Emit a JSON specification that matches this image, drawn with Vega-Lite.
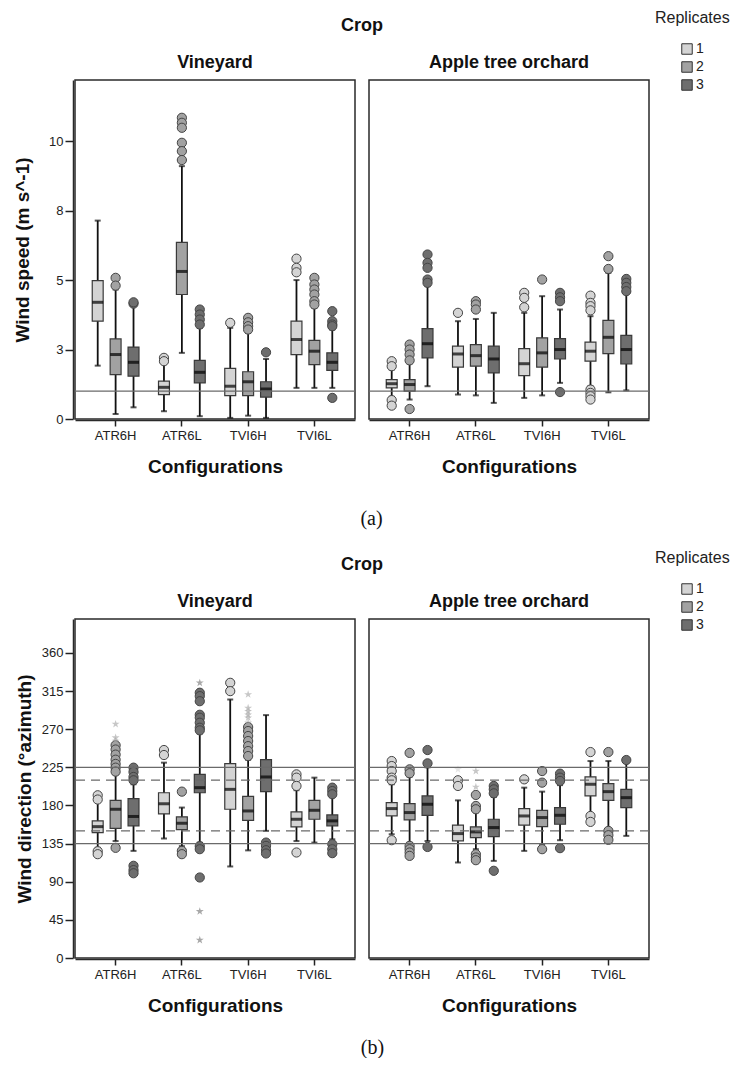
{
"$schema":"https://vega.github.io/schema/vega-lite/v6.json",
"padding":{"top":10,"left":13,"right":0,"bottom":0},
"config":{
 "font":"Liberation Sans",
 "view":{"stroke":"#2a2a2a","strokeWidth":1.5},
 "axis":{"labelFont":"Liberation Sans","labelFontSize":13,"labelColor":"#222","titleFont":"Liberation Sans","titleFontSize":19,"titleFontWeight":"bold","titleColor":"#111","tickColor":"#222","tickWidth":1.5,"domainColor":"#2a2a2a","domainWidth":1.5,"grid":false},
 "axisX":{"labelAngle":0,"tickSize":6,"labelPadding":3,"titlePadding":15},
 "axisY":{"tickSize":8,"labelPadding":2,"titlePadding":10,"titleBaseline":"middle"},
 "header":{"titleFont":"Liberation Sans","titleFontSize":18,"titleFontWeight":"bold","titleColor":"#111","labelFont":"Liberation Sans","labelFontSize":18,"labelFontWeight":"bold","labelColor":"#111","labelPadding":7,"titlePadding":9},
 "legend":{"symbolType":"square","symbolStrokeColor":"#333","symbolStrokeWidth":1,"symbolSize":110,"titleFont":"Liberation Sans","titleFontSize":16,"titleFontWeight":"normal","titleColor":"#222","labelFont":"Liberation Sans","labelFontSize":14,"labelColor":"#222","symbolOffset":25,"rowPadding":2,"labelOffset":2,"titlePadding":16}
},
"concat":[
{
 "title":{"text":"(a)","orient":"bottom","font":"Liberation Serif","fontSize":20,"fontWeight":"normal","color":"#111","offset":33,"anchor":"middle"},
 "data":{"values":[
 {"k":"r","c":"Vineyard","v":1,"d":"s"},
 {"k":"r","c":"Apple tree orchard","v":1,"d":"s"},
 {"k":"b","c":"Vineyard","g":"ATR6H","r":"1","lo":1.92,"q1":3.52,"md":4.2,"q3":4.98,"hi":7.14},
 {"k":"b","c":"Vineyard","g":"ATR6H","r":"2","lo":0.18,"q1":1.6,"md":2.32,"q3":2.88,"hi":4.66},
 {"k":"o","c":"Vineyard","g":"ATR6H","r":"2","v":5.08},
 {"k":"o","c":"Vineyard","g":"ATR6H","r":"2","v":4.8},
 {"k":"b","c":"Vineyard","g":"ATR6H","r":"3","lo":0.42,"q1":1.54,"md":2.04,"q3":2.59,"hi":4.1},
 {"k":"o","c":"Vineyard","g":"ATR6H","r":"3","v":4.15},
 {"k":"o","c":"Vineyard","g":"ATR6H","r":"3","v":4.2},
 {"k":"b","c":"Vineyard","g":"ATR6L","r":"1","lo":0.28,"q1":0.88,"md":1.14,"q3":1.36,"hi":2.0},
 {"k":"o","c":"Vineyard","g":"ATR6L","r":"1","v":2.2},
 {"k":"o","c":"Vineyard","g":"ATR6L","r":"1","v":2.08},
 {"k":"b","c":"Vineyard","g":"ATR6L","r":"2","lo":2.38,"q1":4.48,"md":5.31,"q3":6.36,"hi":9.1},
 {"k":"o","c":"Vineyard","g":"ATR6L","r":"2","v":10.84},
 {"k":"o","c":"Vineyard","g":"ATR6L","r":"2","v":10.66},
 {"k":"o","c":"Vineyard","g":"ATR6L","r":"2","v":10.48},
 {"k":"o","c":"Vineyard","g":"ATR6L","r":"2","v":9.94},
 {"k":"o","c":"Vineyard","g":"ATR6L","r":"2","v":9.64},
 {"k":"o","c":"Vineyard","g":"ATR6L","r":"2","v":9.32},
 {"k":"b","c":"Vineyard","g":"ATR6L","r":"3","lo":0.1,"q1":1.3,"md":1.68,"q3":2.11,"hi":3.28},
 {"k":"o","c":"Vineyard","g":"ATR6L","r":"3","v":3.94},
 {"k":"o","c":"Vineyard","g":"ATR6L","r":"3","v":3.76},
 {"k":"o","c":"Vineyard","g":"ATR6L","r":"3","v":3.58},
 {"k":"o","c":"Vineyard","g":"ATR6L","r":"3","v":3.4},
 {"k":"b","c":"Vineyard","g":"TVI6H","r":"1","lo":0.04,"q1":0.84,"md":1.18,"q3":1.82,"hi":3.28},
 {"k":"o","c":"Vineyard","g":"TVI6H","r":"1","v":3.46},
 {"k":"b","c":"Vineyard","g":"TVI6H","r":"2","lo":0.12,"q1":0.84,"md":1.34,"q3":1.7,"hi":3.1},
 {"k":"o","c":"Vineyard","g":"TVI6H","r":"2","v":3.64},
 {"k":"o","c":"Vineyard","g":"TVI6H","r":"2","v":3.48},
 {"k":"o","c":"Vineyard","g":"TVI6H","r":"2","v":3.34},
 {"k":"o","c":"Vineyard","g":"TVI6H","r":"2","v":3.22},
 {"k":"b","c":"Vineyard","g":"TVI6H","r":"3","lo":0.04,"q1":0.79,"md":1.08,"q3":1.34,"hi":2.16},
 {"k":"o","c":"Vineyard","g":"TVI6H","r":"3","v":2.4},
 {"k":"b","c":"Vineyard","g":"TVI6L","r":"1","lo":1.12,"q1":2.32,"md":2.86,"q3":3.52,"hi":5.0},
 {"k":"o","c":"Vineyard","g":"TVI6L","r":"1","v":5.77},
 {"k":"o","c":"Vineyard","g":"TVI6L","r":"1","v":5.44},
 {"k":"o","c":"Vineyard","g":"TVI6L","r":"1","v":5.28},
 {"k":"b","c":"Vineyard","g":"TVI6L","r":"2","lo":1.12,"q1":1.96,"md":2.44,"q3":2.83,"hi":4.0},
 {"k":"o","c":"Vineyard","g":"TVI6L","r":"2","v":5.08},
 {"k":"o","c":"Vineyard","g":"TVI6L","r":"2","v":4.84},
 {"k":"o","c":"Vineyard","g":"TVI6L","r":"2","v":4.66},
 {"k":"o","c":"Vineyard","g":"TVI6L","r":"2","v":4.48},
 {"k":"o","c":"Vineyard","g":"TVI6L","r":"2","v":4.24},
 {"k":"o","c":"Vineyard","g":"TVI6L","r":"2","v":4.12},
 {"k":"b","c":"Vineyard","g":"TVI6L","r":"3","lo":1.12,"q1":1.75,"md":2.04,"q3":2.38,"hi":3.22},
 {"k":"o","c":"Vineyard","g":"TVI6L","r":"3","v":3.88},
 {"k":"o","c":"Vineyard","g":"TVI6L","r":"3","v":3.52},
 {"k":"o","c":"Vineyard","g":"TVI6L","r":"3","v":3.4},
 {"k":"o","c":"Vineyard","g":"TVI6L","r":"3","v":3.34},
 {"k":"o","c":"Vineyard","g":"TVI6L","r":"3","v":0.76},
 {"k":"b","c":"Apple tree orchard","g":"ATR6H","r":"1","lo":0.8,"q1":1.12,"md":1.27,"q3":1.42,"hi":1.78},
 {"k":"o","c":"Apple tree orchard","g":"ATR6H","r":"1","v":2.08},
 {"k":"o","c":"Apple tree orchard","g":"ATR6H","r":"1","v":1.9},
 {"k":"o","c":"Apple tree orchard","g":"ATR6H","r":"1","v":0.68},
 {"k":"o","c":"Apple tree orchard","g":"ATR6H","r":"1","v":0.48},
 {"k":"b","c":"Apple tree orchard","g":"ATR6H","r":"2","lo":0.7,"q1":1.0,"md":1.24,"q3":1.42,"hi":2.0},
 {"k":"o","c":"Apple tree orchard","g":"ATR6H","r":"2","v":2.68},
 {"k":"o","c":"Apple tree orchard","g":"ATR6H","r":"2","v":2.5},
 {"k":"o","c":"Apple tree orchard","g":"ATR6H","r":"2","v":2.32},
 {"k":"o","c":"Apple tree orchard","g":"ATR6H","r":"2","v":2.11},
 {"k":"o","c":"Apple tree orchard","g":"ATR6H","r":"2","v":0.36},
 {"k":"b","c":"Apple tree orchard","g":"ATR6H","r":"3","lo":1.18,"q1":2.2,"md":2.71,"q3":3.25,"hi":4.78},
 {"k":"o","c":"Apple tree orchard","g":"ATR6H","r":"3","v":5.92},
 {"k":"o","c":"Apple tree orchard","g":"ATR6H","r":"3","v":5.62},
 {"k":"o","c":"Apple tree orchard","g":"ATR6H","r":"3","v":5.44},
 {"k":"o","c":"Apple tree orchard","g":"ATR6H","r":"3","v":5.02},
 {"k":"o","c":"Apple tree orchard","g":"ATR6H","r":"3","v":4.9},
 {"k":"b","c":"Apple tree orchard","g":"ATR6L","r":"1","lo":0.88,"q1":1.87,"md":2.34,"q3":2.62,"hi":3.52},
 {"k":"o","c":"Apple tree orchard","g":"ATR6L","r":"1","v":3.82},
 {"k":"b","c":"Apple tree orchard","g":"ATR6L","r":"2","lo":0.85,"q1":1.9,"md":2.28,"q3":2.68,"hi":3.6},
 {"k":"o","c":"Apple tree orchard","g":"ATR6L","r":"2","v":4.24},
 {"k":"o","c":"Apple tree orchard","g":"ATR6L","r":"2","v":4.12},
 {"k":"o","c":"Apple tree orchard","g":"ATR6L","r":"2","v":3.94},
 {"k":"b","c":"Apple tree orchard","g":"ATR6L","r":"3","lo":0.58,"q1":1.66,"md":2.16,"q3":2.62,"hi":3.82},
 {"k":"b","c":"Apple tree orchard","g":"TVI6H","r":"1","lo":0.76,"q1":1.56,"md":1.99,"q3":2.53,"hi":3.82},
 {"k":"o","c":"Apple tree orchard","g":"TVI6H","r":"1","v":4.54},
 {"k":"o","c":"Apple tree orchard","g":"TVI6H","r":"1","v":4.36},
 {"k":"o","c":"Apple tree orchard","g":"TVI6H","r":"1","v":4.02},
 {"k":"b","c":"Apple tree orchard","g":"TVI6H","r":"2","lo":0.85,"q1":1.87,"md":2.38,"q3":2.92,"hi":4.42},
 {"k":"o","c":"Apple tree orchard","g":"TVI6H","r":"2","v":5.02},
 {"k":"b","c":"Apple tree orchard","g":"TVI6H","r":"3","lo":1.3,"q1":2.16,"md":2.5,"q3":2.89,"hi":3.94},
 {"k":"o","c":"Apple tree orchard","g":"TVI6H","r":"3","v":4.54},
 {"k":"o","c":"Apple tree orchard","g":"TVI6H","r":"3","v":4.38},
 {"k":"o","c":"Apple tree orchard","g":"TVI6H","r":"3","v":4.24},
 {"k":"o","c":"Apple tree orchard","g":"TVI6H","r":"3","v":0.97},
 {"k":"b","c":"Apple tree orchard","g":"TVI6L","r":"1","lo":1.18,"q1":2.08,"md":2.44,"q3":2.77,"hi":3.7},
 {"k":"o","c":"Apple tree orchard","g":"TVI6L","r":"1","v":4.44},
 {"k":"o","c":"Apple tree orchard","g":"TVI6L","r":"1","v":4.18},
 {"k":"o","c":"Apple tree orchard","g":"TVI6L","r":"1","v":4.06},
 {"k":"o","c":"Apple tree orchard","g":"TVI6L","r":"1","v":3.91},
 {"k":"o","c":"Apple tree orchard","g":"TVI6L","r":"1","v":1.06},
 {"k":"o","c":"Apple tree orchard","g":"TVI6L","r":"1","v":0.94},
 {"k":"o","c":"Apple tree orchard","g":"TVI6L","r":"1","v":0.82},
 {"k":"o","c":"Apple tree orchard","g":"TVI6L","r":"1","v":0.7},
 {"k":"b","c":"Apple tree orchard","g":"TVI6L","r":"2","lo":0.96,"q1":2.35,"md":2.94,"q3":3.55,"hi":5.26},
 {"k":"o","c":"Apple tree orchard","g":"TVI6L","r":"2","v":5.86},
 {"k":"o","c":"Apple tree orchard","g":"TVI6L","r":"2","v":5.4},
 {"k":"b","c":"Apple tree orchard","g":"TVI6L","r":"3","lo":1.03,"q1":1.98,"md":2.5,"q3":3.01,"hi":4.54},
 {"k":"o","c":"Apple tree orchard","g":"TVI6L","r":"3","v":5.04},
 {"k":"o","c":"Apple tree orchard","g":"TVI6L","r":"3","v":4.9},
 {"k":"o","c":"Apple tree orchard","g":"TVI6L","r":"3","v":4.75},
 {"k":"o","c":"Apple tree orchard","g":"TVI6L","r":"3","v":4.6}
 ]},
 "facet":{"column":{"field":"c","type":"nominal","sort":["Vineyard","Apple tree orchard"],"title":"Crop"}},
 "spacing":{"column":10},
 "spec":{
  "width":280,"height":339,
  "layer":[
   {"transform":[{"filter":"datum.k=='b'"}],"mark":{"type":"rule","color":"#111","strokeWidth":1.8},
    "encoding":{"x":{"field":"g","type":"nominal","title":"Configurations","sort":["ATR6H","ATR6L","TVI6H","TVI6L"],"scale":{"paddingInner":0.1,"paddingOuter":0.163}},
     "xOffset":{"field":"r","type":"nominal","scale":{"paddingInner":0.39,"paddingOuter":0.36}},
     "y":{"field":"lo","type":"quantitative","title":"Wind speed (m s^-1)","scale":{"domain":[0,12.2],"nice":false,"zero":false},"axis":{"values":[0,2.5,5,7.5,10],"format":".0f","titleX":-51}},
     "y2":{"field":"hi"}}},
   {"transform":[{"filter":"datum.k=='b'"}],"mark":{"type":"tick","color":"#111","size":6,"thickness":2},
    "encoding":{"x":{"field":"g","type":"nominal","title":"Configurations","sort":["ATR6H","ATR6L","TVI6H","TVI6L"],"scale":{"paddingInner":0.1,"paddingOuter":0.163}},
     "xOffset":{"field":"r","type":"nominal","scale":{"paddingInner":0.39,"paddingOuter":0.36}},
     "y":{"field":"lo","type":"quantitative","title":"Wind speed (m s^-1)","scale":{"domain":[0,12.2],"nice":false,"zero":false},"axis":{"values":[0,2.5,5,7.5,10],"format":".0f","titleX":-51}}}},
   {"transform":[{"filter":"datum.k=='b'"}],"mark":{"type":"tick","color":"#111","size":6,"thickness":2},
    "encoding":{"x":{"field":"g","type":"nominal","title":"Configurations","sort":["ATR6H","ATR6L","TVI6H","TVI6L"],"scale":{"paddingInner":0.1,"paddingOuter":0.163}},
     "xOffset":{"field":"r","type":"nominal","scale":{"paddingInner":0.39,"paddingOuter":0.36}},
     "y":{"field":"hi","type":"quantitative","title":"Wind speed (m s^-1)","scale":{"domain":[0,12.2],"nice":false,"zero":false},"axis":{"values":[0,2.5,5,7.5,10],"format":".0f","titleX":-51}}}},
   {"transform":[{"filter":"datum.k=='b'"}],"mark":{"type":"bar","stroke":"#3a3a3a","strokeWidth":1.2},
    "encoding":{"x":{"field":"g","type":"nominal","title":"Configurations","sort":["ATR6H","ATR6L","TVI6H","TVI6L"],"scale":{"paddingInner":0.1,"paddingOuter":0.163}},
     "xOffset":{"field":"r","type":"nominal","scale":{"paddingInner":0.39,"paddingOuter":0.36}},
     "y":{"field":"q1","type":"quantitative","title":"Wind speed (m s^-1)","scale":{"domain":[0,12.2],"nice":false,"zero":false},"axis":{"values":[0,2.5,5,7.5,10],"format":".0f","titleX":-51}},
     "y2":{"field":"q3"},
     "fill":{"field":"r","type":"nominal","scale":{"domain":["1","2","3"],"range":["#d4d4d4","#a2a2a2","#6e6e6e"]},"legend":{"title":"Replicates","orient":"none","legendX":580,"legendY":-70}}}},
   {"transform":[{"filter":"datum.k=='b'"}],"mark":{"type":"tick","color":"#000","size":11,"thickness":3},
    "encoding":{"x":{"field":"g","type":"nominal","title":"Configurations","sort":["ATR6H","ATR6L","TVI6H","TVI6L"],"scale":{"paddingInner":0.1,"paddingOuter":0.163}},
     "xOffset":{"field":"r","type":"nominal","scale":{"paddingInner":0.39,"paddingOuter":0.36}},
     "y":{"field":"md","type":"quantitative","title":"Wind speed (m s^-1)","scale":{"domain":[0,12.2],"nice":false,"zero":false},"axis":{"values":[0,2.5,5,7.5,10],"format":".0f","titleX":-51}}}},
   {"transform":[{"filter":"datum.k=='o'"}],"mark":{"type":"point","shape":"circle","filled":true,"size":85,"stroke":"#444","strokeWidth":1,"opacity":1},
    "encoding":{"x":{"field":"g","type":"nominal","title":"Configurations","sort":["ATR6H","ATR6L","TVI6H","TVI6L"],"scale":{"paddingInner":0.1,"paddingOuter":0.163}},
     "xOffset":{"field":"r","type":"nominal","scale":{"paddingInner":0.39,"paddingOuter":0.36}},
     "y":{"field":"v","type":"quantitative","title":"Wind speed (m s^-1)","scale":{"domain":[0,12.2],"nice":false,"zero":false},"axis":{"values":[0,2.5,5,7.5,10],"format":".0f","titleX":-51}},
     "fill":{"field":"r","type":"nominal","legend":{"title":"Replicates","orient":"none","legendX":580,"legendY":-70}}}},
   {"transform":[{"filter":"datum.k=='r'"}],"mark":{"type":"rule","color":"#6a6a6a","strokeWidth":1.3},
    "encoding":{"y":{"field":"v","type":"quantitative","title":"Wind speed (m s^-1)","scale":{"domain":[0,12.2],"nice":false,"zero":false},"axis":{"values":[0,2.5,5,7.5,10],"format":".0f","titleX":-51}}}}
  ]
 }
},
{
 "title":{"text":"(b)","orient":"bottom","font":"Liberation Serif","fontSize":20,"fontWeight":"normal","color":"#111","offset":23,"anchor":"middle"},
 "data":{"values":[
 {"k":"r","c":"Vineyard","v":225,"d":"s"},{"k":"r","c":"Vineyard","v":135,"d":"s"},{"k":"r","c":"Vineyard","v":210,"d":"d"},{"k":"r","c":"Vineyard","v":150,"d":"d"},
 {"k":"r","c":"Apple tree orchard","v":225,"d":"s"},{"k":"r","c":"Apple tree orchard","v":135,"d":"s"},{"k":"r","c":"Apple tree orchard","v":210,"d":"d"},{"k":"r","c":"Apple tree orchard","v":150,"d":"d"},
 {"k":"b","c":"Vineyard","g":"ATR6H","r":"1","lo":130,"q1":148,"md":155,"q3":161.8,"hi":185},
 {"k":"o","c":"Vineyard","g":"ATR6H","r":"1","v":192},{"k":"o","c":"Vineyard","g":"ATR6H","r":"1","v":187},{"k":"o","c":"Vineyard","g":"ATR6H","r":"1","v":126},{"k":"o","c":"Vineyard","g":"ATR6H","r":"1","v":122.5},
 {"k":"b","c":"Vineyard","g":"ATR6H","r":"2","lo":138,"q1":153,"md":175.5,"q3":186,"hi":216.7},
 {"k":"o","c":"Vineyard","g":"ATR6H","r":"2","v":251},{"k":"o","c":"Vineyard","g":"ATR6H","r":"2","v":246},{"k":"o","c":"Vineyard","g":"ATR6H","r":"2","v":240},{"k":"o","c":"Vineyard","g":"ATR6H","r":"2","v":234},{"k":"o","c":"Vineyard","g":"ATR6H","r":"2","v":229},{"k":"o","c":"Vineyard","g":"ATR6H","r":"2","v":224.6},{"k":"o","c":"Vineyard","g":"ATR6H","r":"2","v":219.9},{"k":"o","c":"Vineyard","g":"ATR6H","r":"2","v":130},
 {"k":"s","c":"Vineyard","g":"ATR6H","r":"2","v":276},{"k":"s","c":"Vineyard","g":"ATR6H","r":"2","v":260},{"k":"s","c":"Vineyard","g":"ATR6H","r":"2","v":256},
 {"k":"b","c":"Vineyard","g":"ATR6H","r":"3","lo":126.4,"q1":156,"md":167,"q3":188,"hi":205},
 {"k":"o","c":"Vineyard","g":"ATR6H","r":"3","v":224.6},{"k":"o","c":"Vineyard","g":"ATR6H","r":"3","v":219.5},{"k":"o","c":"Vineyard","g":"ATR6H","r":"3","v":213.6},{"k":"o","c":"Vineyard","g":"ATR6H","r":"3","v":209.7},{"k":"o","c":"Vineyard","g":"ATR6H","r":"3","v":108.8},{"k":"o","c":"Vineyard","g":"ATR6H","r":"3","v":103.7},{"k":"o","c":"Vineyard","g":"ATR6H","r":"3","v":100},
 {"k":"b","c":"Vineyard","g":"ATR6L","r":"1","lo":141,"q1":170,"md":182,"q3":195,"hi":230.5},
 {"k":"o","c":"Vineyard","g":"ATR6L","r":"1","v":245.4},{"k":"o","c":"Vineyard","g":"ATR6L","r":"1","v":239.5},
 {"k":"b","c":"Vineyard","g":"ATR6L","r":"2","lo":132,"q1":151.5,"md":159,"q3":166.5,"hi":177.5},
 {"k":"o","c":"Vineyard","g":"ATR6L","r":"2","v":196.3},{"k":"o","c":"Vineyard","g":"ATR6L","r":"2","v":126.4},{"k":"o","c":"Vineyard","g":"ATR6L","r":"2","v":122.5},
 {"k":"b","c":"Vineyard","g":"ATR6L","r":"3","lo":136,"q1":195,"md":201,"q3":216.7,"hi":265},
 {"k":"o","c":"Vineyard","g":"ATR6L","r":"3","v":313},{"k":"o","c":"Vineyard","g":"ATR6L","r":"3","v":309},{"k":"o","c":"Vineyard","g":"ATR6L","r":"3","v":303},{"k":"o","c":"Vineyard","g":"ATR6L","r":"3","v":287},{"k":"o","c":"Vineyard","g":"ATR6L","r":"3","v":283.5},{"k":"o","c":"Vineyard","g":"ATR6L","r":"3","v":277.6},{"k":"o","c":"Vineyard","g":"ATR6L","r":"3","v":271.7},{"k":"o","c":"Vineyard","g":"ATR6L","r":"3","v":268.6},{"k":"o","c":"Vineyard","g":"ATR6L","r":"3","v":132},{"k":"o","c":"Vineyard","g":"ATR6L","r":"3","v":128.4},{"k":"o","c":"Vineyard","g":"ATR6L","r":"3","v":95},
 {"k":"s","c":"Vineyard","g":"ATR6L","r":"3","v":324.7},{"k":"s","c":"Vineyard","g":"ATR6L","r":"3","v":55},{"k":"s","c":"Vineyard","g":"ATR6L","r":"3","v":21.2},
 {"k":"b","c":"Vineyard","g":"TVI6H","r":"1","lo":108,"q1":175.5,"md":199,"q3":229.3,"hi":305},
 {"k":"o","c":"Vineyard","g":"TVI6H","r":"1","v":324.7},{"k":"o","c":"Vineyard","g":"TVI6H","r":"1","v":314.9},
 {"k":"b","c":"Vineyard","g":"TVI6H","r":"2","lo":127,"q1":162.5,"md":173.5,"q3":190.8,"hi":234},
 {"k":"o","c":"Vineyard","g":"TVI6H","r":"2","v":272.5},{"k":"o","c":"Vineyard","g":"TVI6H","r":"2","v":267.8},{"k":"o","c":"Vineyard","g":"TVI6H","r":"2","v":261.9},{"k":"o","c":"Vineyard","g":"TVI6H","r":"2","v":256},{"k":"o","c":"Vineyard","g":"TVI6H","r":"2","v":250},{"k":"o","c":"Vineyard","g":"TVI6H","r":"2","v":244.2},{"k":"o","c":"Vineyard","g":"TVI6H","r":"2","v":238.3},
 {"k":"s","c":"Vineyard","g":"TVI6H","r":"2","v":311},{"k":"s","c":"Vineyard","g":"TVI6H","r":"2","v":295},{"k":"s","c":"Vineyard","g":"TVI6H","r":"2","v":291},{"k":"s","c":"Vineyard","g":"TVI6H","r":"2","v":287},{"k":"s","c":"Vineyard","g":"TVI6H","r":"2","v":283.5},{"k":"s","c":"Vineyard","g":"TVI6H","r":"2","v":277.6},
 {"k":"b","c":"Vineyard","g":"TVI6H","r":"3","lo":150,"q1":196.3,"md":213.6,"q3":234,"hi":286.6},
 {"k":"o","c":"Vineyard","g":"TVI6H","r":"3","v":136.2},{"k":"o","c":"Vineyard","g":"TVI6H","r":"3","v":132.3},{"k":"o","c":"Vineyard","g":"TVI6H","r":"3","v":127.2},{"k":"o","c":"Vineyard","g":"TVI6H","r":"3","v":123.3},
 {"k":"b","c":"Vineyard","g":"TVI6L","r":"1","lo":138,"q1":154.7,"md":163.7,"q3":172.4,"hi":198},
 {"k":"o","c":"Vineyard","g":"TVI6L","r":"1","v":216.7},{"k":"o","c":"Vineyard","g":"TVI6L","r":"1","v":212.8},{"k":"o","c":"Vineyard","g":"TVI6L","r":"1","v":203},{"k":"o","c":"Vineyard","g":"TVI6L","r":"1","v":124.5},
 {"k":"b","c":"Vineyard","g":"TVI6L","r":"2","lo":136.2,"q1":163.7,"md":174.3,"q3":186,"hi":212.8},
 {"k":"b","c":"Vineyard","g":"TVI6L","r":"3","lo":140,"q1":155.9,"md":161.8,"q3":168.8,"hi":190},
 {"k":"o","c":"Vineyard","g":"TVI6L","r":"3","v":201},{"k":"o","c":"Vineyard","g":"TVI6L","r":"3","v":197},{"k":"o","c":"Vineyard","g":"TVI6L","r":"3","v":193.2},{"k":"o","c":"Vineyard","g":"TVI6L","r":"3","v":134.3},{"k":"o","c":"Vineyard","g":"TVI6L","r":"3","v":128.4},{"k":"o","c":"Vineyard","g":"TVI6L","r":"3","v":123.7},
 {"k":"b","c":"Apple tree orchard","g":"ATR6H","r":"1","lo":146,"q1":167.6,"md":176.3,"q3":183.4,"hi":205},
 {"k":"o","c":"Apple tree orchard","g":"ATR6H","r":"1","v":232.4},{"k":"o","c":"Apple tree orchard","g":"ATR6H","r":"1","v":226.5},{"k":"o","c":"Apple tree orchard","g":"ATR6H","r":"1","v":220.6},{"k":"o","c":"Apple tree orchard","g":"ATR6H","r":"1","v":212.8},{"k":"o","c":"Apple tree orchard","g":"ATR6H","r":"1","v":209.7},{"k":"o","c":"Apple tree orchard","g":"ATR6H","r":"1","v":139},
 {"k":"b","c":"Apple tree orchard","g":"ATR6H","r":"2","lo":136,"q1":163,"md":171.6,"q3":182.2,"hi":214},
 {"k":"o","c":"Apple tree orchard","g":"ATR6H","r":"2","v":242},{"k":"o","c":"Apple tree orchard","g":"ATR6H","r":"2","v":222.6},{"k":"o","c":"Apple tree orchard","g":"ATR6H","r":"2","v":218},{"k":"o","c":"Apple tree orchard","g":"ATR6H","r":"2","v":132.3},{"k":"o","c":"Apple tree orchard","g":"ATR6H","r":"2","v":128.4},{"k":"o","c":"Apple tree orchard","g":"ATR6H","r":"2","v":124.5},{"k":"o","c":"Apple tree orchard","g":"ATR6H","r":"2","v":120.5},
 {"k":"b","c":"Apple tree orchard","g":"ATR6H","r":"3","lo":138,"q1":168.4,"md":181.4,"q3":191.2,"hi":225},
 {"k":"o","c":"Apple tree orchard","g":"ATR6H","r":"3","v":245.4},{"k":"o","c":"Apple tree orchard","g":"ATR6H","r":"3","v":229.7},{"k":"o","c":"Apple tree orchard","g":"ATR6H","r":"3","v":131},
 {"k":"b","c":"Apple tree orchard","g":"ATR6L","r":"1","lo":112.7,"q1":138.2,"md":146.8,"q3":156.7,"hi":186},
 {"k":"o","c":"Apple tree orchard","g":"ATR6L","r":"1","v":209.7},{"k":"o","c":"Apple tree orchard","g":"ATR6L","r":"1","v":203},
 {"k":"s","c":"Apple tree orchard","g":"ATR6L","r":"1","v":222.6},
 {"k":"b","c":"Apple tree orchard","g":"ATR6L","r":"2","lo":128.4,"q1":142.1,"md":148.8,"q3":154.7,"hi":172},
 {"k":"o","c":"Apple tree orchard","g":"ATR6L","r":"2","v":192.4},{"k":"o","c":"Apple tree orchard","g":"ATR6L","r":"2","v":179.4},{"k":"o","c":"Apple tree orchard","g":"ATR6L","r":"2","v":175.5},{"k":"o","c":"Apple tree orchard","g":"ATR6L","r":"2","v":122.5},{"k":"o","c":"Apple tree orchard","g":"ATR6L","r":"2","v":118.6},{"k":"o","c":"Apple tree orchard","g":"ATR6L","r":"2","v":115.4},
 {"k":"s","c":"Apple tree orchard","g":"ATR6L","r":"2","v":220.6},{"k":"s","c":"Apple tree orchard","g":"ATR6L","r":"2","v":201.8},
 {"k":"b","c":"Apple tree orchard","g":"ATR6L","r":"3","lo":114.6,"q1":143.3,"md":153.9,"q3":163.7,"hi":190},
 {"k":"o","c":"Apple tree orchard","g":"ATR6L","r":"3","v":203},{"k":"o","c":"Apple tree orchard","g":"ATR6L","r":"3","v":199},{"k":"o","c":"Apple tree orchard","g":"ATR6L","r":"3","v":194.3},{"k":"o","c":"Apple tree orchard","g":"ATR6L","r":"3","v":102.9},
 {"k":"b","c":"Apple tree orchard","g":"TVI6H","r":"1","lo":126.4,"q1":156.7,"md":167.6,"q3":176.3,"hi":201},
 {"k":"o","c":"Apple tree orchard","g":"TVI6H","r":"1","v":210.8},
 {"k":"b","c":"Apple tree orchard","g":"TVI6H","r":"2","lo":134.3,"q1":155.1,"md":165.7,"q3":174.3,"hi":196.3},
 {"k":"o","c":"Apple tree orchard","g":"TVI6H","r":"2","v":220.6},{"k":"o","c":"Apple tree orchard","g":"TVI6H","r":"2","v":206.9},{"k":"o","c":"Apple tree orchard","g":"TVI6H","r":"2","v":128.4},
 {"k":"b","c":"Apple tree orchard","g":"TVI6H","r":"3","lo":139,"q1":157.8,"md":168.4,"q3":177.5,"hi":204},
 {"k":"o","c":"Apple tree orchard","g":"TVI6H","r":"3","v":217.5},{"k":"o","c":"Apple tree orchard","g":"TVI6H","r":"3","v":212.8},{"k":"o","c":"Apple tree orchard","g":"TVI6H","r":"3","v":208.9},{"k":"o","c":"Apple tree orchard","g":"TVI6H","r":"3","v":129.6},
 {"k":"b","c":"Apple tree orchard","g":"TVI6L","r":"1","lo":169.6,"q1":191.2,"md":205,"q3":213.6,"hi":232.4},
 {"k":"o","c":"Apple tree orchard","g":"TVI6L","r":"1","v":243},{"k":"o","c":"Apple tree orchard","g":"TVI6L","r":"1","v":167.6},{"k":"o","c":"Apple tree orchard","g":"TVI6L","r":"1","v":160.6},
 {"k":"b","c":"Apple tree orchard","g":"TVI6L","r":"2","lo":152,"q1":186.1,"md":196.3,"q3":205.7,"hi":232.4},
 {"k":"o","c":"Apple tree orchard","g":"TVI6L","r":"2","v":243},{"k":"o","c":"Apple tree orchard","g":"TVI6L","r":"2","v":150},{"k":"o","c":"Apple tree orchard","g":"TVI6L","r":"2","v":144.9},{"k":"o","c":"Apple tree orchard","g":"TVI6L","r":"2","v":139.4},
 {"k":"b","c":"Apple tree orchard","g":"TVI6L","r":"3","lo":144.1,"q1":177.5,"md":189.2,"q3":199,"hi":230.5},
 {"k":"o","c":"Apple tree orchard","g":"TVI6L","r":"3","v":233.6}
 ]},
 "facet":{"column":{"field":"c","type":"nominal","sort":["Vineyard","Apple tree orchard"],"title":"Crop"}},
 "spacing":{"column":10},
 "spec":{
  "width":280,"height":339,
  "layer":[
   {"transform":[{"filter":"datum.k=='b'"}],"mark":{"type":"rule","color":"#111","strokeWidth":1.8},
    "encoding":{"x":{"field":"g","type":"nominal","title":"Configurations","sort":["ATR6H","ATR6L","TVI6H","TVI6L"],"scale":{"paddingInner":0.1,"paddingOuter":0.163}},
     "xOffset":{"field":"r","type":"nominal","scale":{"paddingInner":0.39,"paddingOuter":0.36}},
     "y":{"field":"lo","type":"quantitative","title":"Wind direction (°azimuth)","scale":{"domain":[0,400],"nice":false,"zero":false},"axis":{"values":[0,45,90,135,180,225,270,315,360],"titleX":-49}},
     "y2":{"field":"hi"}}},
   {"transform":[{"filter":"datum.k=='b'"}],"mark":{"type":"tick","color":"#111","size":6,"thickness":2},
    "encoding":{"x":{"field":"g","type":"nominal","title":"Configurations","sort":["ATR6H","ATR6L","TVI6H","TVI6L"],"scale":{"paddingInner":0.1,"paddingOuter":0.163}},
     "xOffset":{"field":"r","type":"nominal","scale":{"paddingInner":0.39,"paddingOuter":0.36}},
     "y":{"field":"lo","type":"quantitative","title":"Wind direction (°azimuth)","scale":{"domain":[0,400],"nice":false,"zero":false},"axis":{"values":[0,45,90,135,180,225,270,315,360],"titleX":-49}}}},
   {"transform":[{"filter":"datum.k=='b'"}],"mark":{"type":"tick","color":"#111","size":6,"thickness":2},
    "encoding":{"x":{"field":"g","type":"nominal","title":"Configurations","sort":["ATR6H","ATR6L","TVI6H","TVI6L"],"scale":{"paddingInner":0.1,"paddingOuter":0.163}},
     "xOffset":{"field":"r","type":"nominal","scale":{"paddingInner":0.39,"paddingOuter":0.36}},
     "y":{"field":"hi","type":"quantitative","title":"Wind direction (°azimuth)","scale":{"domain":[0,400],"nice":false,"zero":false},"axis":{"values":[0,45,90,135,180,225,270,315,360],"titleX":-49}}}},
   {"transform":[{"filter":"datum.k=='b'"}],"mark":{"type":"bar","stroke":"#3a3a3a","strokeWidth":1.2},
    "encoding":{"x":{"field":"g","type":"nominal","title":"Configurations","sort":["ATR6H","ATR6L","TVI6H","TVI6L"],"scale":{"paddingInner":0.1,"paddingOuter":0.163}},
     "xOffset":{"field":"r","type":"nominal","scale":{"paddingInner":0.39,"paddingOuter":0.36}},
     "y":{"field":"q1","type":"quantitative","title":"Wind direction (°azimuth)","scale":{"domain":[0,400],"nice":false,"zero":false},"axis":{"values":[0,45,90,135,180,225,270,315,360],"titleX":-49}},
     "y2":{"field":"q3"},
     "fill":{"field":"r","type":"nominal","scale":{"domain":["1","2","3"],"range":["#d4d4d4","#a2a2a2","#6e6e6e"]},"legend":{"title":"Replicates","orient":"none","legendX":580,"legendY":-69}}}},
   {"transform":[{"filter":"datum.k=='b'"}],"mark":{"type":"tick","color":"#000","size":11,"thickness":3},
    "encoding":{"x":{"field":"g","type":"nominal","title":"Configurations","sort":["ATR6H","ATR6L","TVI6H","TVI6L"],"scale":{"paddingInner":0.1,"paddingOuter":0.163}},
     "xOffset":{"field":"r","type":"nominal","scale":{"paddingInner":0.39,"paddingOuter":0.36}},
     "y":{"field":"md","type":"quantitative","title":"Wind direction (°azimuth)","scale":{"domain":[0,400],"nice":false,"zero":false},"axis":{"values":[0,45,90,135,180,225,270,315,360],"titleX":-49}}}},
   {"transform":[{"filter":"datum.k=='o'"}],"mark":{"type":"point","shape":"circle","filled":true,"size":85,"stroke":"#444","strokeWidth":1,"opacity":1},
    "encoding":{"x":{"field":"g","type":"nominal","title":"Configurations","sort":["ATR6H","ATR6L","TVI6H","TVI6L"],"scale":{"paddingInner":0.1,"paddingOuter":0.163}},
     "xOffset":{"field":"r","type":"nominal","scale":{"paddingInner":0.39,"paddingOuter":0.36}},
     "y":{"field":"v","type":"quantitative","title":"Wind direction (°azimuth)","scale":{"domain":[0,400],"nice":false,"zero":false},"axis":{"values":[0,45,90,135,180,225,270,315,360],"titleX":-49}},
     "fill":{"field":"r","type":"nominal","legend":{"title":"Replicates","orient":"none","legendX":580,"legendY":-69}}}},
   {"transform":[{"filter":"datum.k=='s'"}],"mark":{"type":"point","shape":"M0,-1L0.2245,-0.309L0.951,-0.309L0.363,0.118L0.588,0.809L0,0.382L-0.588,0.809L-0.363,0.118L-0.951,-0.309L-0.2245,-0.309Z","filled":true,"size":70,"strokeWidth":0,"opacity":0.6},
    "encoding":{"x":{"field":"g","type":"nominal","title":"Configurations","sort":["ATR6H","ATR6L","TVI6H","TVI6L"],"scale":{"paddingInner":0.1,"paddingOuter":0.163}},
     "xOffset":{"field":"r","type":"nominal","scale":{"paddingInner":0.39,"paddingOuter":0.36}},
     "y":{"field":"v","type":"quantitative","title":"Wind direction (°azimuth)","scale":{"domain":[0,400],"nice":false,"zero":false},"axis":{"values":[0,45,90,135,180,225,270,315,360],"titleX":-49}},
     "fill":{"field":"r","type":"nominal","legend":{"title":"Replicates","orient":"none","legendX":580,"legendY":-69}}}},
   {"transform":[{"filter":"datum.k=='r'"}],"mark":{"type":"rule","color":"#6a6a6a","strokeWidth":1.3},
    "encoding":{"y":{"field":"v","type":"quantitative","title":"Wind direction (°azimuth)","scale":{"domain":[0,400],"nice":false,"zero":false},"axis":{"values":[0,45,90,135,180,225,270,315,360],"titleX":-49}},
     "strokeDash":{"field":"d","type":"nominal","scale":{"domain":["s","d"],"range":[[1,0],[9,6]]},"legend":null}}}
  ]
 }
}
],
"columns":1,
"spacing":21,
"resolve":{"scale":{"fill":"independent"},"legend":{"fill":"independent"}}
}
